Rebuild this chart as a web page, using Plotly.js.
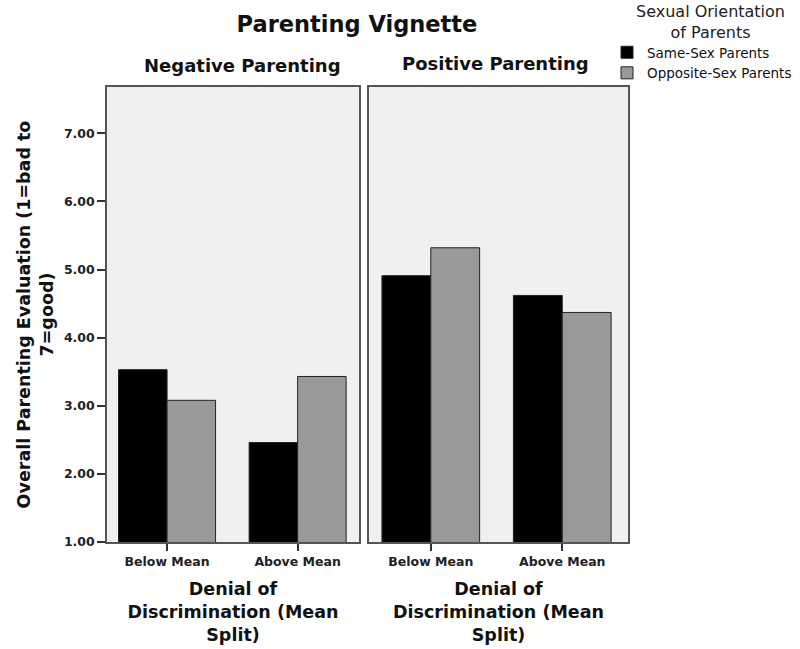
<!DOCTYPE html>
<html>
<head>
<meta charset="utf-8">
<script src="https://cdn.plot.ly/plotly-3.0.1.min.js"></script>
<style>html,body{margin:0;padding:0;background:#fff}#chart{width:800px;height:649px}</style>
</head>
<body>
<div id="chart"></div>
<script>
const categories = ["Below Mean", "Above Mean"];
const panelTitles = ["Negative Parenting", "Positive Parenting"];
const seriesNames = ["Same-Sex Parents", "Opposite-Sex Parents"];
const legendTitle = "Sexual Orientation<br>of Parents";
const sameSexNegative = [3.53, 2.46];
const oppositeSexNegative = [3.08, 3.43];
const sameSexPositive = [4.91, 4.62];
const oppositeSexPositive = [5.32, 4.37];
const yTickVals = [1, 2, 3, 4, 5, 6, 7];
const yTickText = ["1.00", "2.00", "3.00", "4.00", "5.00", "6.00", "7.00"];

const FONT = "DejaVu Sans, Verdana, sans-serif";
const colors = ["#000000", "#999999"];
const lineStyle = {color: "#222222", width: 1};

function bar(name, vals, color, xa, ya, show) {
  return {
    type: "bar", name: name, x: categories, y: vals, xaxis: xa, yaxis: ya,
    marker: {color: color, line: lineStyle}, legendgroup: name, showlegend: show,
    hoverinfo: "x+y+name"
  };
}

const data = [
  bar(seriesNames[0], sameSexNegative, colors[0], "x", "y", true),
  bar(seriesNames[1], oppositeSexNegative, colors[1], "x", "y", true),
  bar(seriesNames[0], sameSexPositive, colors[0], "x2", "y2", false),
  bar(seriesNames[1], oppositeSexPositive, colors[1], "x2", "y2", false)
];

const yDom = [1 - 542/649, 1 - 87/649];
const xTitle = {text: "<b>Denial of<br>Discrimination (Mean<br>Split)</b>", font: {family: FONT, size: 17.5, color: "#111"}, standoff: 15};
const xCommon = {
  type: "category", range: [-0.46, 1.47], showline: true, mirror: true, linecolor: "#555", linewidth: 1.5,
  ticks: "outside", ticklen: 7, tickcolor: "#333", tickwidth: 1.5, showgrid: false, zeroline: false,
  tickfont: {family: FONT, size: 12.5, color: "#222", weight: "bold"}, fixedrange: true, automargin: false
};

const layout = {
  width: 800, height: 649,
  margin: {l: 0, r: 0, t: 0, b: 0},
  paper_bgcolor: "#ffffff", plot_bgcolor: "#f0f0f0",
  font: {family: FONT, color: "#111"},
  barmode: "group", bargap: 0.257, bargroupgap: 0,
  showlegend: true,
  title: {text: "<b>Parenting Vignette</b>", font: {family: FONT, size: 22.5, color: "#111"}, x: 357/800, xanchor: "center", y: 1 - 24/649, yanchor: "middle"},
  xaxis: Object.assign({}, xCommon, {domain: [107/800, 359/800], anchor: "y", title: xTitle}),
  xaxis2: Object.assign({}, xCommon, {domain: [369/800, 628/800], anchor: "y2", range: [-0.47, 1.5], title: xTitle}),
  yaxis: {
    domain: yDom, range: [1, 7.68], anchor: "x", showline: true, mirror: true, linecolor: "#555", linewidth: 1.5,
    ticks: "outside", ticklen: 8, tickcolor: "#333", tickwidth: 1.5, tickvals: yTickVals, ticktext: yTickText,
    tickfont: {family: FONT, size: 12.5, color: "#222", weight: "bold"}, showgrid: false, zeroline: false, fixedrange: true,
    title: {text: "<b>Overall Parenting Evaluation (1=bad to<br>7=good)</b>", font: {family: FONT, size: 17.5, color: "#111"}, standoff: 6}
  },
  yaxis2: {
    domain: yDom, range: [1, 7.68], anchor: "x2", showline: true, mirror: true, linecolor: "#555", linewidth: 1.5,
    showticklabels: false, ticks: "", showgrid: false, zeroline: false, fixedrange: true
  },
  legend: {
    x: 607/800, y: 1 - 37/649, xanchor: "left", yanchor: "top", bgcolor: "rgba(0,0,0,0)",
    font: {family: FONT, size: 13.5, color: "#111"}, tracegroupgap: 0, itemwidth: 30
  },
  annotations: [
    {text: "<b>" + panelTitles[0] + "</b>", xref: "paper", yref: "paper", x: 242/800, y: 1 - 66/649, xanchor: "center", yanchor: "middle", showarrow: false, font: {family: FONT, size: 18, color: "#111"}},
    {text: "<b>" + panelTitles[1] + "</b>", xref: "paper", yref: "paper", x: 495/800, y: 1 - 64/649, xanchor: "center", yanchor: "middle", showarrow: false, font: {family: FONT, size: 18, color: "#111"}},
    {text: legendTitle, xref: "paper", yref: "paper", x: 710/800, y: 1 - 22/649, xanchor: "center", yanchor: "middle", align: "center", showarrow: false, font: {family: FONT, size: 16, color: "#222"}}
  ]
};

Plotly.newPlot("chart", data, layout, {displayModeBar: false});
</script>
</body>
</html>
